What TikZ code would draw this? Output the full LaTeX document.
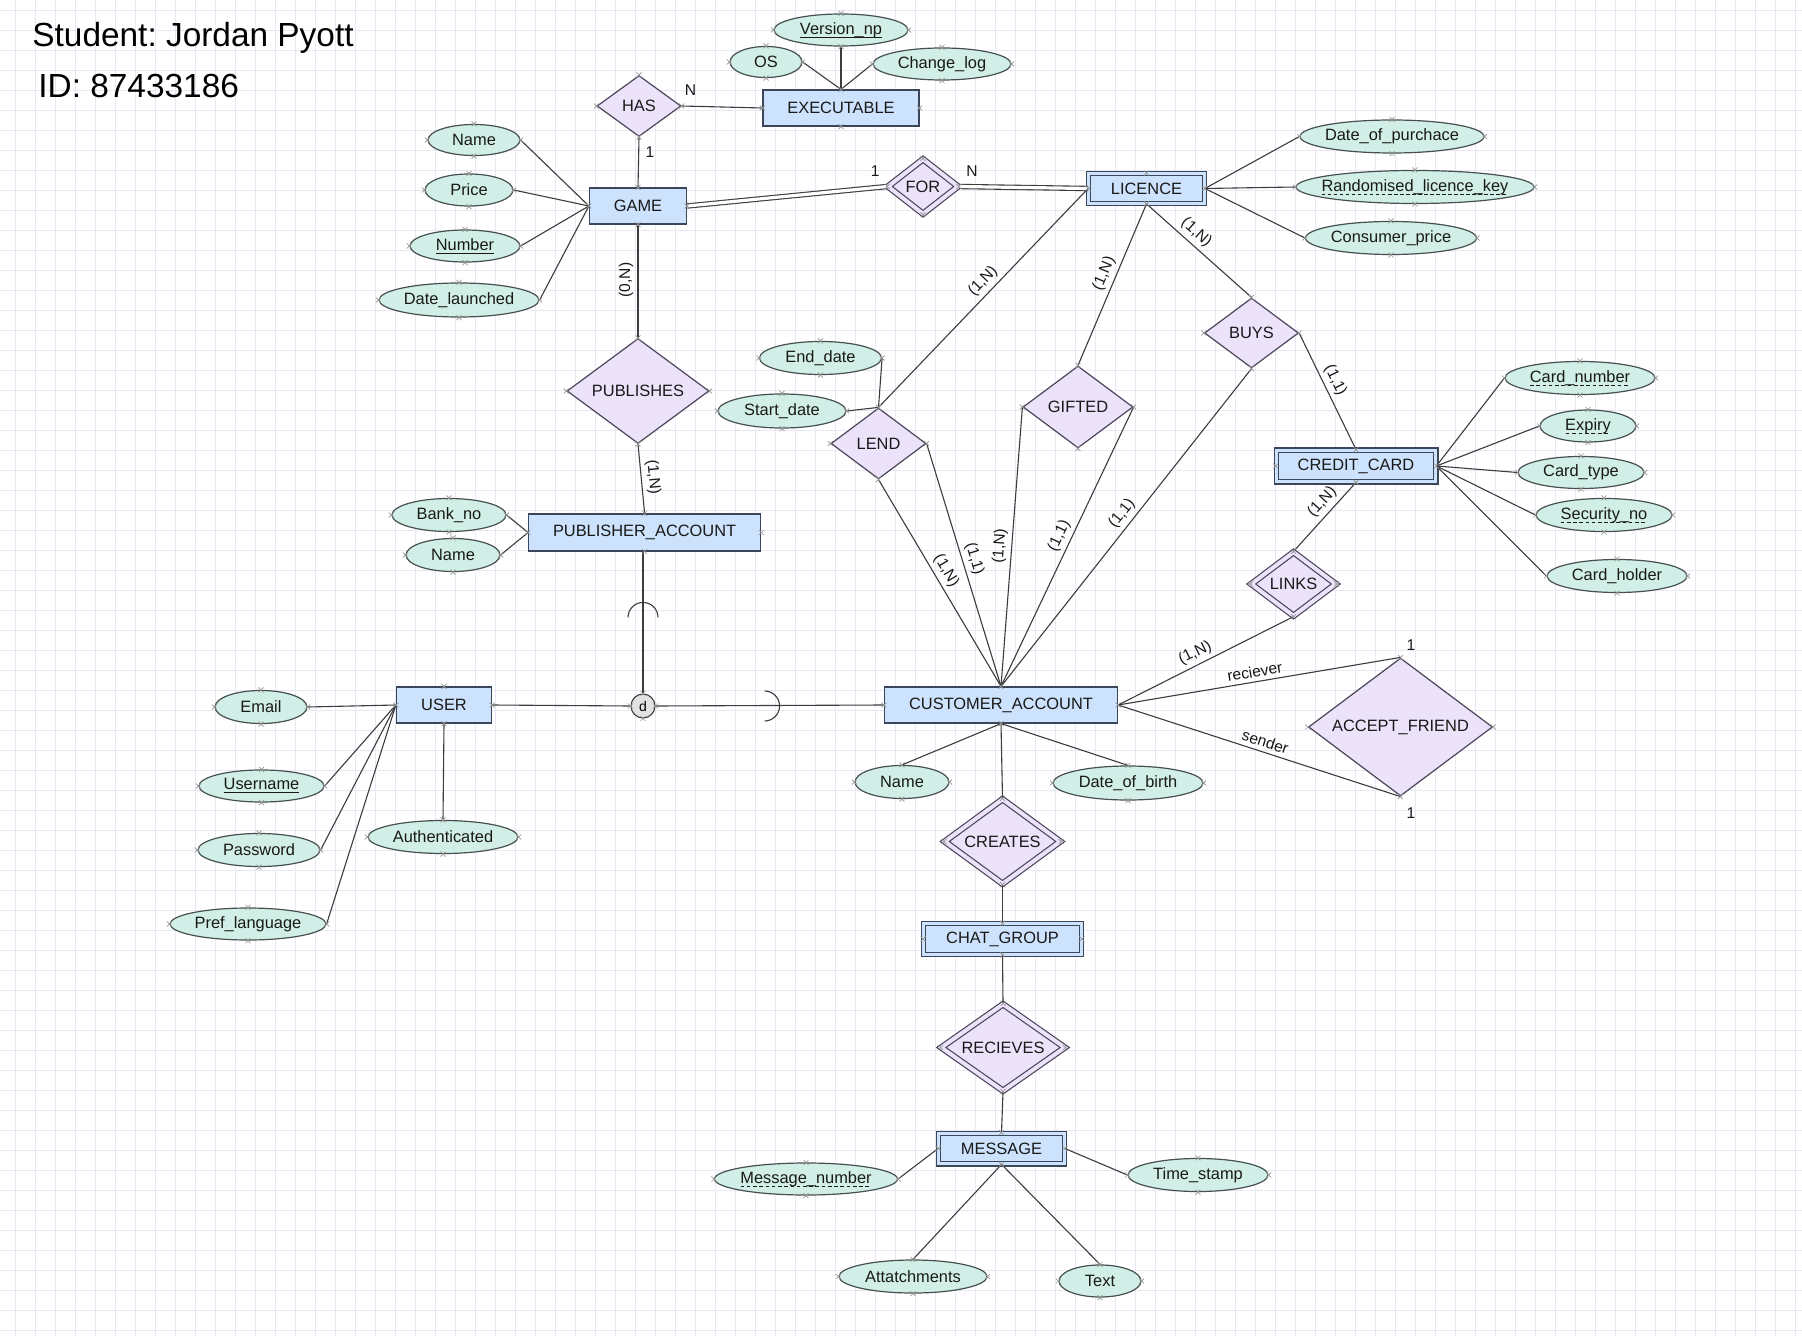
\documentclass[tikz,border=0pt]{standalone}
\usepackage{fontspec}
\setmainfont{Liberation Sans}
\usetikzlibrary{shapes.geometric}
\frenchspacing
\definecolor{entfill}{RGB}{205,226,252}
\definecolor{entdraw}{RGB}{60,70,90}
\definecolor{attfill}{RGB}{210,239,231}
\definecolor{attdraw}{RGB}{70,80,80}
\definecolor{relfill}{RGB}{236,226,250}
\definecolor{reldraw}{RGB}{75,70,90}
\definecolor{linec}{RGB}{60,60,60}
\definecolor{gridc}{RGB}{232,232,244}
\definecolor{markc}{RGB}{150,150,150}
\definecolor{txtc}{RGB}{25,25,25}
\definecolor{dfill}{RGB}{226,226,226}
\newcommand\nfont{\fontsize{8.2}{9.5}\selectfont}
\newcommand\lfont{\fontsize{7.8}{9}\selectfont}
\newcommand\zb[1]{\makebox[0pt]{#1}}
\newcommand\solidul[1]{\setbox0=\hbox{#1}\rlap{\raisebox{-1.7pt}{\rule{\wd0}{0.45pt}}}\box0}
\newcommand\dashul[1]{\setbox0=\hbox{#1}\rlap{\raisebox{-1.7pt}{\hbox to\wd0{\xleaders\hbox{\rule{1.8pt}{0.45pt}\hspace{1.2pt}}\hfil}}}\box0}
\tikzset{
 ent/.style={rectangle, draw=entdraw, fill=entfill, line width=0.6pt, inner sep=0pt, font=\nfont, text=txtc},
 wk/.style={ent, double=entfill, double distance=1.5pt},
 rel/.style={diamond, draw=reldraw, fill=relfill, line width=0.6pt, inner sep=0pt, font=\nfont, text=txtc},
 wrel/.style={rel, double=relfill, double distance=2pt},
 att/.style={ellipse, draw=attdraw, fill=attfill, line width=0.6pt, inner sep=0pt, font=\nfont, text=txtc},
 conn/.style={draw=linec, line width=0.55pt},
 dconn/.style={conn, double=white, double distance=1.6pt},
 lbl/.style={font=\lfont, text=txtc, inner sep=2pt},
 wh/.style 2 args={minimum width=#1pt, minimum height=#2pt},
}
\begin{document}
\begin{tikzpicture}[x=0.5pt,y=-0.5pt]
\path[use as bounding box, fill=white] (0,0) rectangle (1802,1336);
\foreach \i in {15,35,...,1800} \draw[gridc, line width=0.4pt] (\i,0) -- (\i,1336);
\foreach \j in {10,30,...,1336} \draw[gridc, line width=0.4pt] (0,\j) -- (1802,\j);

% title
\node[anchor=west, inner sep=0pt, font=\fontsize{16.7}{20}\selectfont] (title) at (32,38) {Student: Jordan Pyott};
\node[anchor=west, inner sep=0pt, font=\fontsize{16.7}{20}\selectfont] (sid) at (38,86) {ID: 87433186};

% nodes
\node[rel, wh={42}{30.5}] (HAS) at (639,106) {\zb{HAS}};
\node[ent, wh={78}{18}] (EXE) at (841,108) {EXECUTABLE};
\node[att, wh={67}{16}] (VER) at (841,30) {\zb{\solidul{Version\_np}}};
\node[att, wh={36}{15.5}] (OS) at (766,62) {\zb{OS}};
\node[att, wh={69}{16}] (CHG) at (942,64) {\zb{Change\_log}};
\node[ent, wh={48.5}{18}] (GAME) at (638,206) {GAME};
\node[att, wh={46}{15.5}] (GNAME) at (474,140) {\zb{Name}};
\node[att, wh={44}{16}] (PRICE) at (469,190) {\zb{Price}};
\node[att, wh={55}{16}] (NUM) at (465,246) {\zb{\solidul{Number}}};
\node[att, wh={80}{17}] (DL) at (459,300) {\zb{Date\_launched}};
\node[wrel, wh={35.3}{27.5}] (FOR) at (923,186.5) {\zb{FOR}};
\node[wk, wh={57.8}{14.8}] (LIC) at (1146.5,188.5) {LICENCE};
\node[att, wh={92}{16.5}] (DOP) at (1392,136.5) {\zb{Date\_of\_purchace}};
\node[att, wh={119}{16.5}] (RLK) at (1415,187) {\zb{\dashul{Randomised\_licence\_key}}};
\node[att, wh={85.5}{16.5}] (CP) at (1391,238) {\zb{Consumer\_price}};
\node[rel, wh={71}{52.5}] (PUB) at (638,391) {\zb{PUBLISHES}};
\node[ent, wh={116}{18.5}] (PUBACC) at (644.6,532.5) {PUBLISHER\_ACCOUNT};
\node[att, wh={57}{16.5}] (BANK) at (449,515) {\zb{Bank\_no}};
\node[att, wh={47}{16.5}] (PNAME) at (453,555) {\zb{Name}};
\node[circle, draw=linec, fill=dfill, line width=0.55pt, minimum size=12pt, inner sep=0pt, font=\fontsize{7}{8}\selectfont] (D) at (643,706) {d};
\node[ent, wh={47.5}{18}] (USER) at (444,705) {USER};
\node[att, wh={46}{16.5}] (EMAIL) at (261,707) {\zb{Email}};
\node[att, wh={62.5}{16}] (UNAME) at (261.5,786) {\zb{\solidul{Username}}};
\node[att, wh={61}{16.5}] (PASS) at (259,850) {\zb{Password}};
\node[att, wh={78}{16}] (PREF) at (248,924) {\zb{Pref\_language}};
\node[att, wh={75}{16.5}] (AUTH) at (443,837) {\zb{Authenticated}};
\node[ent, wh={116.5}{18}] (CA) at (1001,705) {CUSTOMER\_ACCOUNT};
\node[att, wh={47}{16.5}] (CNAME) at (902,782) {\zb{Name}};
\node[att, wh={75}{17}] (DOB) at (1128,783) {\zb{Date\_of\_birth}};
\node[wrel, wh={58}{42.5}] (CREATES) at (1002.5,841.5) {\zb{CREATES}};
\node[wk, wh={78.8}{15.3}] (CHAT) at (1002.5,939) {CHAT\_GROUP};
\node[wrel, wh={62}{43.5}] (RECV) at (1003,1047.5) {\zb{RECIEVES}};
\node[wk, wh={62.8}{15.3}] (MSG) at (1001.5,1148.5) {MESSAGE};
\node[att, wh={91.5}{16}] (MNUM) at (806,1179) {\zb{\dashul{Message\_number}}};
\node[att, wh={70}{16.5}] (TS) at (1198,1175) {\zb{Time\_stamp}};
\node[att, wh={74}{16.5}] (ATT) at (913,1276.5) {\zb{Attatchments}};
\node[att, wh={41}{16}] (TEXT) at (1100,1281) {\zb{Text}};
\node[rel, wh={47.5}{35.5}] (LEND) at (878.5,443.5) {\zb{LEND}};
\node[att, wh={61}{16.5}] (ENDD) at (820.5,358) {\zb{End\_date}};
\node[att, wh={64}{17}] (STARTD) at (782,411) {\zb{Start\_date}};
\node[rel, wh={55}{41}] (GIFT) at (1078,407) {\zb{GIFTED}};
\node[rel, wh={47}{35}] (BUYS) at (1251.5,333) {\zb{BUYS}};
\node[wk, wh={79.8}{15.8}] (CC) at (1356,466) {CREDIT\_CARD};
\node[att, wh={75}{16.5}] (CNUM) at (1580,378) {\zb{\dashul{Card\_number}}};
\node[att, wh={48}{16}] (EXP) at (1588,426) {\zb{\dashul{Expiry}}};
\node[att, wh={63}{16}] (CTYPE) at (1581,472.5) {\zb{Card\_type}};
\node[att, wh={68}{16.5}] (SEC) at (1604,515) {\zb{\dashul{Security\_no}}};
\node[att, wh={70}{16.5}] (CHOLD) at (1617,576) {\zb{Card\_holder}};
\node[wrel, wh={42.5}{32}] (LINKS) at (1293.5,584) {\zb{LINKS}};
\node[rel, wh={92}{69}] (AF) at (1400.5,727) {\zb{ACCEPT\_FRIEND}};

% connectors
\draw[conn] (HAS.east) -- node[lbl, pos=0, xshift=4.5pt, yshift=8pt] {N} (EXE.west);
\draw[conn] (HAS.south) -- node[lbl, pos=0, xshift=5.5pt, yshift=-7.75pt] {1} (GAME.north);
\draw[conn] (OS.east) -- (EXE.north);
\draw[conn] (VER.south) -- (EXE.north);
\draw[conn] (CHG.west) -- (EXE.north);
\foreach \a in {GNAME,PRICE,NUM,DL} \draw[conn] (\a.east) -- (GAME.west);
\draw[dconn] (GAME.east) -- node[lbl, pos=1, xshift=-6pt, yshift=7.75pt] {1} (FOR.west);
\draw[dconn] (FOR.east) -- node[lbl, pos=0, xshift=6.5pt, yshift=7.75pt] {N} (LIC.west);
\foreach \a in {DOP,RLK,CP} \draw[conn] (LIC.east) -- (\a.west);
\draw[conn] (PUB.north) -- node[lbl, sloped, above, pos=0.51] {(0,N)} (GAME.south);
\draw[conn] (PUB.south) -- node[lbl, sloped, above, pos=0.49] {(1,N)} (PUBACC.north);
\draw[conn] (BANK.east) -- (PUBACC.west);
\draw[conn] (PNAME.east) -- (PUBACC.west);
\draw[conn] (D.north |- PUBACC.south) -- (D.north);
\draw[conn] (D.north) ++(0,-76) ++(7.5pt,0) arc[start angle=0, end angle=180, radius=7.5pt];
\draw[conn] (USER.east) -- (D.west);
\draw[conn] (D.east) -- (CA.west);
\draw[conn] (D.east) ++(109,15) arc[start angle=-90, end angle=90, radius=7.5pt];
\foreach \a in {EMAIL,UNAME,PASS,PREF} \draw[conn] (\a.east) -- (USER.west);
\draw[conn] (USER.south) -- (AUTH.north);
\draw[conn] (LIC.west) -- node[lbl, sloped, above, pos=0.46] {(1,N)} (LEND.north);
\draw[conn] (ENDD.east) -- (LEND.north);
\draw[conn] (STARTD.east) -- (LEND.north);
\draw[conn] (LEND.south) -- node[lbl, sloped, above, pos=0.47] {(1,N)} (CA.north);
\draw[conn] (LEND.east) -- node[lbl, sloped, above, pos=0.49] {(1,1)} (CA.north);
\draw[conn] (LIC.south) -- node[lbl, sloped, above, pos=0.46] {(1,N)} (GIFT.north);
\draw[conn] (GIFT.west) -- node[lbl, sloped, above, pos=0.5] {(1,N)} (CA.north);
\draw[conn] (GIFT.east) -- node[lbl, sloped, above, pos=0.48] {(1,1)} (CA.north);
\draw[conn] (LIC.south) -- node[lbl, sloped, above, pos=0.40] {(1,N)} (BUYS.north);
\draw[conn] (BUYS.south) -- node[lbl, sloped, above, pos=0.48] {(1,1)} (CA.north);
\draw[conn] (BUYS.east) -- node[lbl, sloped, above, pos=0.45] {(1,1)} (CC.north);
\foreach \a in {CNUM,EXP,CTYPE,SEC,CHOLD} \draw[conn] (CC.east) -- (\a.west);
\draw[conn] (CA.east) -- node[lbl, sloped, above, pos=0.47] {(1,N)} (LINKS.south);
\draw[conn] (LINKS.north) -- node[lbl, sloped, above, pos=0.6] {(1,N)} (CC.south);
\draw[conn] (CA.east) -- node[lbl, sloped, above, pos=0.49] {reciever} node[lbl, pos=1, xshift=5.25pt, yshift=6pt] {1} (AF.north);
\draw[conn] (CA.east) -- node[lbl, sloped, above, pos=0.51] {sender} node[lbl, pos=1, xshift=5.25pt, yshift=-8.25pt] {1} (AF.south);
\draw[conn] (CA.south) -- (CNAME.north);
\draw[conn] (CA.south) -- (DOB.north);
\draw[conn] (CA.south) -- (CREATES.north);
\draw[conn] (CREATES.south) -- (CHAT.north);
\draw[conn] (CHAT.south) -- (RECV.north);
\draw[conn] (RECV.south) -- (MSG.north);
\draw[conn] (MNUM.east) -- (MSG.west);
\draw[conn] (TS.west) -- (MSG.east);
\draw[conn] (MSG.south) -- (ATT.north);
\draw[conn] (MSG.south) -- (TEXT.north);

% connection point marks
\foreach \n in {HAS,EXE,VER,OS,CHG,GAME,GNAME,PRICE,NUM,DL,FOR,LIC,DOP,RLK,CP,PUB,PUBACC,BANK,PNAME,USER,EMAIL,UNAME,PASS,PREF,AUTH,CA,CNAME,DOB,CREATES,CHAT,RECV,MSG,MNUM,TS,ATT,TEXT,LEND,ENDD,STARTD,GIFT,BUYS,CC,CNUM,EXP,CTYPE,SEC,CHOLD,LINKS,AF,D}
  \foreach \a in {north,south,east,west}
    \draw[markc, line width=0.3pt] (\n.\a) ++(-2.5,-2.5) -- ++(5,5) ++(0,-5) -- ++(-5,5);
\end{tikzpicture}
\end{document}
